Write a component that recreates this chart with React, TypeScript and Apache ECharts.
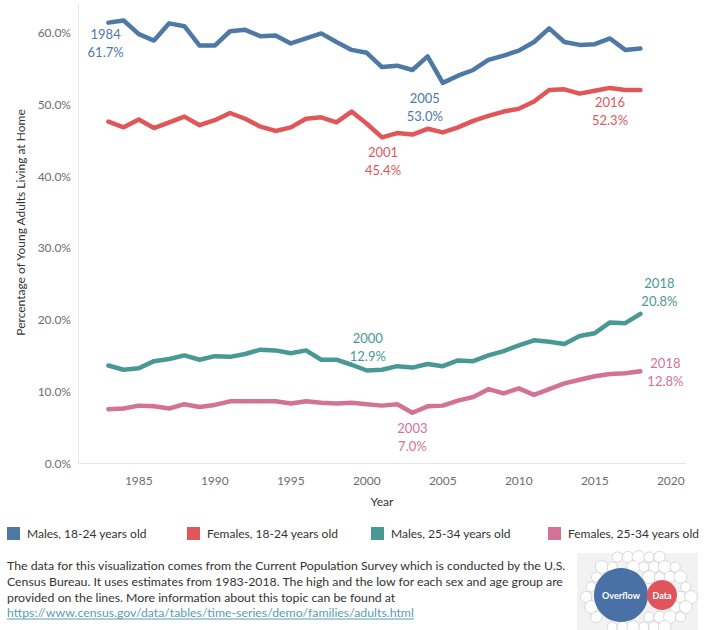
import { useEffect, useRef } from "react";
import * as echarts from "echarts";

/** Survey years */
const years = [
  1983, 1984, 1985, 1986, 1987, 1988, 1989, 1990, 1991, 1992, 1993, 1994,
  1995, 1996, 1997, 1998, 1999, 2000, 2001, 2002, 2003, 2004, 2005, 2006,
  2007, 2008, 2009, 2010, 2011, 2012, 2013, 2014, 2015, 2016, 2017, 2018,
];

/** Percent living at home, per group */
const males1824 = [
  61.4, 61.7, 59.8, 58.9, 61.3, 60.9, 58.2, 58.2, 60.2, 60.4, 59.5, 59.6,
  58.5, 59.2, 59.9, 58.7, 57.6, 57.2, 55.2, 55.4, 54.8, 56.7, 53.0, 54.0,
  54.8, 56.2, 56.8, 57.5, 58.7, 60.6, 58.7, 58.3, 58.4, 59.2, 57.6, 57.8,
];
const females1824 = [
  47.6, 46.8, 47.9, 46.7, 47.5, 48.3, 47.1, 47.8, 48.8, 48.0, 46.9, 46.3,
  46.8, 48.0, 48.2, 47.5, 49.0, 47.3, 45.4, 46.0, 45.8, 46.6, 46.1, 46.8,
  47.7, 48.4, 49.0, 49.4, 50.4, 52.0, 52.1, 51.5, 51.9, 52.3, 52.0, 52.0,
];
const males2534 = [
  13.6, 13.0, 13.2, 14.2, 14.5, 15.0, 14.4, 14.9, 14.8, 15.2, 15.8, 15.7,
  15.3, 15.7, 14.4, 14.4, 13.7, 12.9, 13.0, 13.5, 13.3, 13.8, 13.5, 14.3,
  14.2, 15.0, 15.6, 16.4, 17.1, 16.9, 16.6, 17.7, 18.1, 19.6, 19.5, 20.8,
];
const females2534 = [
  7.5, 7.6, 8.0, 7.9, 7.6, 8.2, 7.8, 8.1, 8.6, 8.6, 8.6, 8.6,
  8.3, 8.6, 8.4, 8.3, 8.4, 8.2, 8.0, 8.2, 7.0, 7.9, 8.0, 8.7,
  9.2, 10.3, 9.7, 10.4, 9.5, 10.3, 11.1, 11.6, 12.1, 12.4, 12.5, 12.8,
];

const groupNames = [
  "Males, 18-24 years old",
  "Females, 18-24 years old",
  "Males, 25-34 years old",
  "Females, 25-34 years old",
];
const groupValues = [males1824, females1824, males2534, females2534];
const groupColors = ["#4e79a7", "#e15759", "#499894", "#d37295"];

/** Years whose high / low gets a label, per group */
const labelledYears = [
  [1984, 2005],
  [2001, 2016],
  [2000, 2018],
  [2003, 2018],
];
// label offset from the point, per labelled year
const labelOffsets = [
  [[-18, 23], [-18, 24]],
  [[1, 24], [0, 23]],
  [[1, -23], [19, -22]],
  [[0, 24], [25, 1]],
];

const yTicks = [0, 10, 20, 30, 40, 50, 60];

const noteLines = [
  "The data for this visualization comes from the Current Population Survey which is conducted by the U.S.",
  "Census Bureau. It uses estimates from 1983-2018. The high and the low for each sex and age group are",
  "provided on the lines. More information about this topic can be found at",
];
const noteLink = "https://www.census.gov/data/tables/time-series/demo/families/adults.html";

const FONT = "Lato, 'Open Sans', sans-serif";
const NOTE_SIZE = 12.3;

function measure(text: string, size: number) {
  const ctx = document.createElement("canvas").getContext("2d");
  if (!ctx) return text.length * size * 0.5;
  ctx.font = `${size}px Lato`;
  return ctx.measureText(text).width;
}

function logoGraphics() {
  const bx = 621, by = 595, br = 27;
  const rx = 662, ry = 595, rr = 15;
  const bubbles: any[] = [];
  for (let r = 0; r < 8; r++) {
    for (let c = 0; c < 11; c++) {
      const cx = 586 + c * 10.5 + (r % 2) * 5.25;
      const cy = 557 + r * 10;
      const e = ((cx - 639) / 56) ** 2 + ((cy - 593) / 40) ** 2;
      if (e > 1) continue;
      if (Math.hypot(cx - bx, cy - by) < br + 2) continue;
      if (Math.hypot(cx - rx, cy - ry) < rr + 2) continue;
      bubbles.push({
        type: "circle",
        shape: { cx, cy, r: 5 + ((r + c) % 3) * 0.7 },
        style: { fill: "#ffffff", stroke: "#cfcfcf", lineWidth: 0.8 },
        silent: true,
      });
    }
  }
  return [
    { type: "rect", shape: { x: 577, y: 553, width: 121, height: 77 }, style: { fill: "#f2f2f2" }, silent: true },
    ...bubbles,
    { type: "circle", shape: { cx: bx, cy: by, r: br }, style: { fill: "#4a71a6" }, silent: true },
    { type: "circle", shape: { cx: rx, cy: ry, r: rr }, style: { fill: "#e0545a" }, silent: true },
    {
      type: "text", x: bx, y: by, silent: true,
      style: { text: "Overflow", fill: "#ffffff", fontSize: 9, fontWeight: "bold", fontFamily: FONT, align: "center", verticalAlign: "middle" },
    },
    {
      type: "text", x: rx, y: ry, silent: true,
      style: { text: "Data", fill: "#ffffff", fontSize: 9, fontWeight: "bold", fontFamily: FONT, align: "center", verticalAlign: "middle" },
    },
  ];
}

export default function App() {
  const ref = useRef<HTMLDivElement>(null);
  useEffect(() => {
    if (!ref.current) return;
    const chart = echarts.init(ref.current, undefined, { renderer: "svg" });

    const legendLefts = [7, 187, 371, 548];
    const noteTops = [565, 581, 597];
    const linkWidth = measure(noteLink, NOTE_SIZE);

    chart.setOption({
      animation: false,
      textStyle: { fontFamily: FONT },
      grid: { left: 78, right: 19, top: 4, bottom: 167 },
      legend: groupNames.map((name, i) => ({
        data: [name],
        left: legendLefts[i],
        top: 527,
        icon: "rect",
        itemWidth: 13,
        itemHeight: 13,
        padding: 0,
        textStyle: { fontSize: 12, color: "#333333", fontFamily: FONT, padding: [0, 0, 0, 2] },
      })),
      xAxis: {
        type: "value",
        min: 1981,
        max: 2021,
        minInterval: 5,
        maxInterval: 5,
        name: "Year",
        nameLocation: "middle",
        nameGap: 32,
        nameTextStyle: { fontSize: 12, color: "#333333" },
        axisLine: { show: true, lineStyle: { color: "#e6e6e6" } },
        axisTick: { show: false },
        splitLine: { show: false },
        axisLabel: {
          fontSize: 12,
          color: "#6e6e6e",
          margin: 11,
          formatter: (v: number) => (v % 5 === 0 ? String(v) : ""),
        },
      },
      yAxis: {
        type: "value",
        min: 0,
        max: 64,
        interval: 10,
        name: "Percentage of Young Adults Living at Home",
        nameLocation: "middle",
        nameGap: 52,
        nameTextStyle: { fontSize: 12, color: "#333333", padding: [0, 0, 0, 22] },
        axisLine: { show: true, lineStyle: { color: "#e6e6e6" } },
        axisTick: { show: false },
        splitLine: { show: false },
        axisLabel: {
          fontSize: 12,
          color: "#6e6e6e",
          margin: 7,
          formatter: (v: number) => (yTicks.includes(v) ? v.toFixed(1) + "%" : ""),
        },
      },
      series: groupNames.map((name, gi) => ({
        name,
        type: "line",
        showSymbol: true,
        showAllSymbol: true,
        symbol: "circle",
        symbolSize: 2,
        color: groupColors[gi],
        lineStyle: { width: 4.5, color: groupColors[gi], cap: "round", join: "round" },
        emphasis: { disabled: true },
        data: years.map((yr, i) => {
          const li = labelledYears[gi].indexOf(yr);
          const value = [yr, groupValues[gi][i]];
          if (li < 0) return value;
          return {
            value,
            label: {
              show: true,
              position: "inside",
              offset: labelOffsets[gi][li],
              color: groupColors[gi],
              fontSize: 13,
              lineHeight: 18,
              align: "center",
              formatter: (p: any) => `${p.value[0]}\n${p.value[1].toFixed(1)}%`,
            },
          };
        }),
      })),
      graphic: [
        ...noteLines.map((t, i) => ({
          type: "text",
          x: 7,
          y: noteTops[i],
          silent: true,
          style: { text: t, fill: "#333333", fontSize: NOTE_SIZE, fontFamily: FONT, verticalAlign: "middle" },
        })),
        {
          type: "text",
          x: 7,
          y: 612,
          silent: true,
          style: { text: noteLink, fill: "#5a9cb3", fontSize: NOTE_SIZE, fontFamily: FONT, verticalAlign: "middle" },
        },
        {
          type: "line",
          silent: true,
          shape: { x1: 7, y1: 619, x2: 7 + linkWidth, y2: 619 },
          style: { stroke: "#5a9cb3", lineWidth: 1 },
        },
        ...logoGraphics(),
      ],
    });
    return () => chart.dispose();
  }, []);
  return <div ref={ref} style={{ position: "absolute", left: 0, top: 0, width: 705, height: 630 }} />;
}
